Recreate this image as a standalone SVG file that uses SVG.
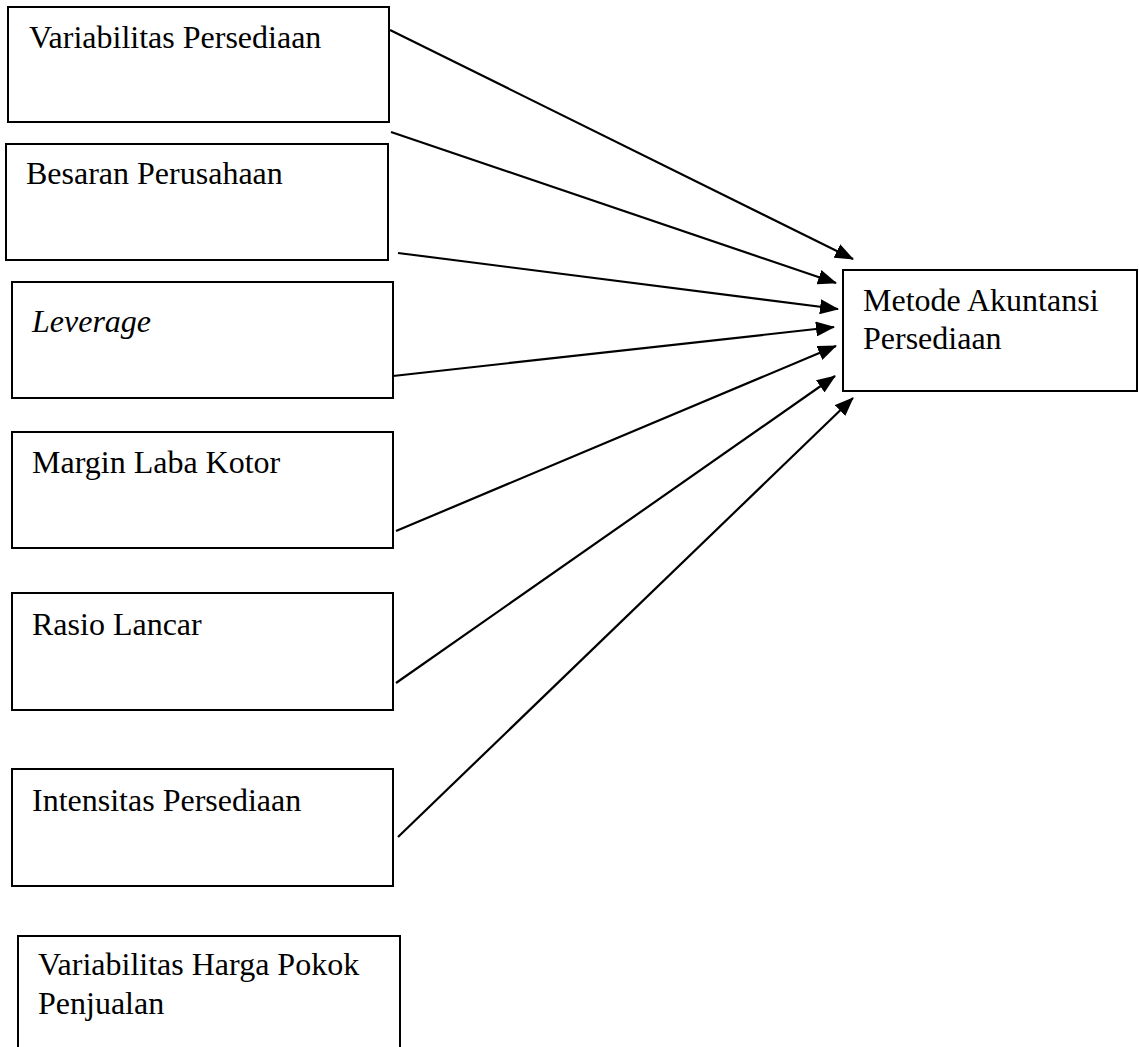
<svg xmlns="http://www.w3.org/2000/svg" width="1139" height="1047" viewBox="0 0 1139 1047">
<style>
.box{fill:#fff;stroke:#000;stroke-width:2}
.t{font-family:"Liberation Serif","Times New Roman",serif;font-size:32px;fill:#000}
.it{font-style:italic}
.c{stroke:#000;stroke-width:2.2;fill:none;marker-end:url(#ah)}
</style>
<defs>
<marker id="ah" markerUnits="userSpaceOnUse" markerWidth="19" markerHeight="15" refX="18" refY="7.5" orient="auto">
<path d="M0,0 L19,7.5 L0,15 z" fill="#000"/>
</marker>
</defs>
<rect width="1139" height="1047" fill="#fff"/>
<g id="n1"><rect class="box" x="8" y="7" width="381" height="115"/><text class="t" x="29" y="48">Variabilitas Persediaan</text></g>
<g id="n2"><rect class="box" x="6" y="144" width="382" height="116"/><text class="t" x="26" y="184">Besaran Perusahaan</text></g>
<g id="n3"><rect class="box" x="12" y="282" width="381" height="116"/><text class="t it" x="32" y="332">Leverage</text></g>
<g id="n4"><rect class="box" x="12" y="432" width="381" height="116"/><text class="t" x="32" y="473">Margin Laba Kotor</text></g>
<g id="n5"><rect class="box" x="12" y="593" width="381" height="117"/><text class="t" x="32" y="635">Rasio Lancar</text></g>
<g id="n6"><rect class="box" x="12" y="769" width="381" height="117"/><text class="t" x="32" y="811">Intensitas Persediaan</text></g>
<g id="n7"><rect class="box" x="18" y="936" width="382" height="130"/><text class="t" x="38" y="975">Variabilitas Harga Pokok</text><text class="t" x="38" y="1014">Penjualan</text></g>
<g id="target"><rect class="box" x="843" y="270" width="294" height="121"/><text class="t" x="863" y="311">Metode Akuntansi</text><text class="t" x="863" y="349">Persediaan</text></g>
<g id="connectors">
<line class="c" x1="390" y1="30" x2="853" y2="259"/>
<line class="c" x1="391" y1="132" x2="836" y2="283"/>
<line class="c" x1="398" y1="253" x2="838" y2="309"/>
<line class="c" x1="393" y1="376" x2="834" y2="327"/>
<line class="c" x1="396" y1="531" x2="836" y2="346"/>
<line class="c" x1="396" y1="683" x2="835" y2="376"/>
<line class="c" x1="398" y1="837" x2="853" y2="398"/>
</g>
</svg>
